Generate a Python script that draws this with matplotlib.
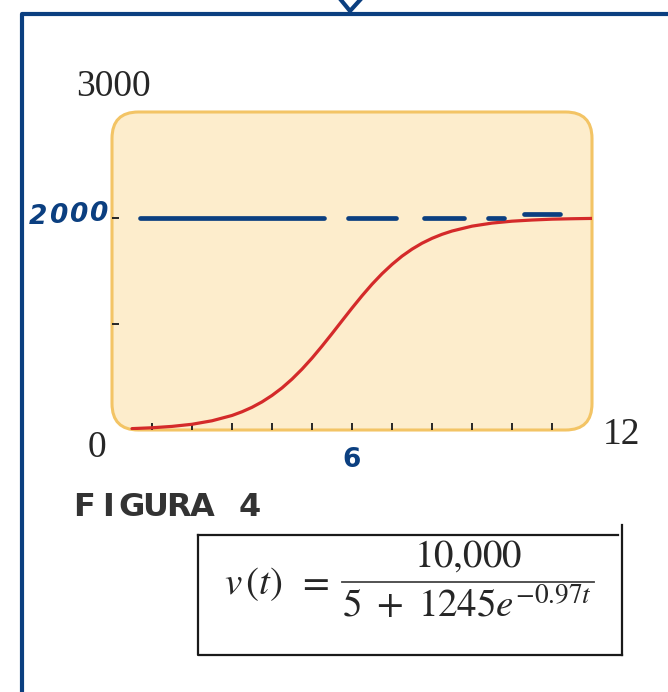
import matplotlib.pyplot as plt
from matplotlib.patches import FancyBboxPatch
from matplotlib.lines import Line2D

# curve v(t) (t in hours, v in units)
t_vals = [0.5, 1, 1.5, 2, 2.5, 3, 3.25, 3.5, 3.75, 4, 4.25, 4.5, 4.75, 5, 5.25,
          5.5, 5.75, 6, 6.25, 6.5, 6.75, 7, 7.25, 7.5, 7.75, 8, 8.25, 8.5, 9,
          9.5, 10, 10.5, 11, 11.5, 12]
v_vals = [13, 21, 34, 54, 87, 137, 172, 214, 265, 326, 397, 480, 574, 678, 791,
          909, 1030, 1150, 1266, 1375, 1474, 1562, 1640, 1706, 1762, 1808, 1846,
          1877, 1923, 1952, 1970, 1981, 1989, 1993, 1996]

x_ticks = [1, 2, 3, 4, 5, 6, 7, 8, 9, 10, 11]
y_ticks = [1000, 2000]

# hand drawn dashes of the asymptote (start, end, level)
dash_start = [0.7, 5.9, 7.8, 9.4, 10.3]
dash_end = [5.3, 7.1, 8.8, 9.8, 11.2]
dash_level = [2000, 2000, 2000, 2000, 2035]

caption = "FIGURA 4"

W, H = 668, 692
BLUE = "#0b3f80"
INK = "#262626"


def fx(x):
    return x / W


def fy(y):
    return 1 - y / H


fig = plt.figure(figsize=(W / 100, H / 100), dpi=100)
fig.patch.set_facecolor("white")

ax = fig.add_axes([fx(112), fy(430), 480 / W, 318 / H])
ax.set_xlim(0, 12)
ax.set_ylim(0, 3000)
ax.patch.set_visible(False)
for s in ax.spines.values():
    s.set_visible(False)

box = FancyBboxPatch((0, 0), 1, 1, boxstyle="round,pad=0,rounding_size=0.055",
                     mutation_aspect=480 / 318, transform=ax.transAxes,
                     fc="#fdedcc", ec="#f3c465", lw=2.2, clip_on=False, zorder=0)
ax.add_patch(box)

ax.set_xticks(x_ticks)
ax.set_yticks(y_ticks)
ax.tick_params(direction="in", length=5, width=1.4, color=INK,
               labelbottom=False, labelleft=False)

ax.plot(t_vals, v_vals, color="#d42a2a", lw=2.3, solid_capstyle="round", zorder=3)

for a, b, lev in zip(dash_start, dash_end, dash_level):
    ax.plot([a, b], [lev, lev], color=BLUE, lw=3.4, solid_capstyle="round", zorder=4)

serif = ["Liberation Serif", "DejaVu Serif"]
fig.text(fx(113), fy(87), "3000", family=serif, fontsize=27, color=INK,
         ha="center", va="center")
fig.text(fx(97), fy(448), "0", family=serif, fontsize=27, color=INK,
         ha="center", va="center")
fig.text(fx(621), fy(435), "12", family=serif, fontsize=27, color=INK,
         ha="center", va="center")

# handwritten notes
for i, ch in enumerate("2000"):
    fig.text(fx(38 + i * 20), fy(217 - i), ch, fontsize=19, fontweight="bold",
             color=BLUE, style="italic", ha="center", va="center")
fig.text(fx(352), fy(460), "6", fontsize=19, fontweight="bold", color=BLUE,
         ha="center", va="center")

# blue frame
fig.add_artist(Line2D([fx(22), fx(22), fx(668)], [fy(692), fy(14), fy(14)],
                      color=BLUE, lw=3))
fig.add_artist(Line2D([fx(341), fx(350), fx(360)], [fy(0), fy(11), fy(0)],
                      color=BLUE, lw=3))

# caption, letter-spaced
for i, ch in enumerate(caption):
    fig.text(fx(84 + i * 23.7), fy(508), ch, fontsize=23, fontweight="bold",
             color="#333333", ha="center", va="center")

# formula box
fig.add_artist(Line2D([fx(198), fx(198), fx(622)], [fy(535), fy(655), fy(655)],
                      color="#1a1a1a", lw=1.6))
fig.add_artist(Line2D([fx(198), fx(618)], [fy(535), fy(535)], color="#1a1a1a", lw=1.6))
fig.add_artist(Line2D([fx(622), fx(622)], [fy(525), fy(655)], color="#1a1a1a", lw=1.6))

plt.rcParams["mathtext.fontset"] = "stix"
fig.text(fx(224), fy(584), r"$v\,(t)$", fontsize=28, color=INK, ha="left", va="center")
fig.text(fx(313), fy(582), r"$=$", fontsize=28, color=INK, ha="center", va="center")
fig.text(fx(468), fy(556), r"$\mathrm{10{,}000}$", fontsize=28, color=INK,
         ha="center", va="center")
fig.add_artist(Line2D([fx(342), fx(594)], [fy(582), fy(582)], color="#444444", lw=1.3))
fig.text(fx(342), fy(606), r"$5\ +\ 1245e^{-0.97t}$", fontsize=28, color=INK,
         ha="left", va="center")

fig.savefig("out.png", dpi=100)
